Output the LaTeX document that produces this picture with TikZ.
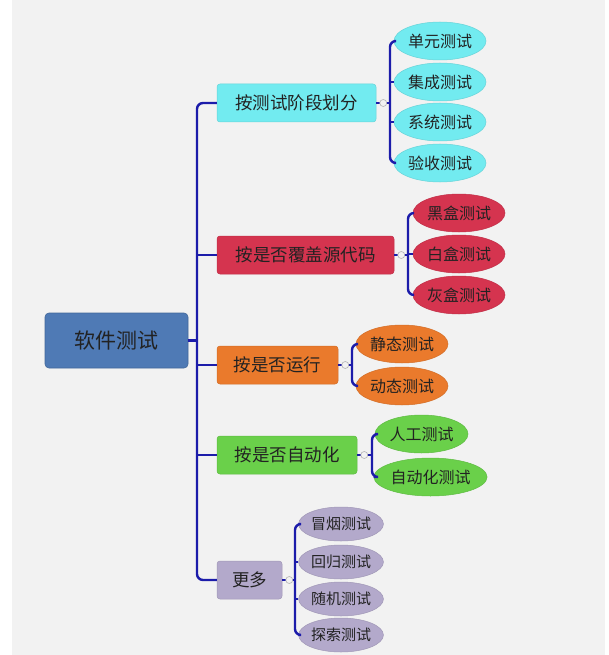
\documentclass[tikz,border=0pt]{standalone}
\usepackage{fontspec}
\setmainfont{Noto Sans CJK SC}
\usetikzlibrary{shapes.geometric}
\definecolor{bgc}{HTML}{F2F2F2}
\definecolor{linec}{HTML}{1C1CAA}
\definecolor{rootc}{HTML}{4F7AB5}
\definecolor{cyanc}{HTML}{72EBF0}
\definecolor{redc}{HTML}{D5344F}
\definecolor{orc}{HTML}{EA7A2C}
\definecolor{grc}{HTML}{6AD04A}
\definecolor{lavc}{HTML}{B3A9CB}
\definecolor{txtc}{HTML}{222222}
\tikzset{
  rootbox/.style={rectangle, rounded corners=4pt, fill=rootc, draw=rootc!85!black, line width=0.6pt, minimum width=143pt, minimum height=55pt, inner sep=0pt, text=txtc, font=\fontsize{21}{24}\selectfont},
  lvlbox/.style={rectangle, rounded corners=3pt, fill=#1, draw=#1!90!black, line width=0.5pt, minimum height=38pt, inner sep=0pt, text=txtc, font=\fontsize{17.5}{20}\selectfont},
  leaf/.style={ellipse, fill=#1, draw=#1!90!black, line width=0.5pt, minimum height=38pt, minimum width=92pt, inner sep=0pt, text=txtc, font=\fontsize{16}{18}\selectfont},
  conn/.style={draw=linec, line width=2.4pt, rounded corners=6pt},
  knob/.style={circle, draw=gray!60, fill=bgc, line width=0.6pt, minimum size=7pt, inner sep=0pt}
}
\begin{document}
\begin{tikzpicture}[x=1pt,y=-1pt]
\useasboundingbox (0,0) rectangle (609,655);
\fill[white] (0,0) rectangle (609,655);
\fill[bgc] (12,0) rectangle (605,655);

% root
\node[rootbox] (root) at (116.5,340.5) {软件测试};

% level 1
\node[lvlbox=cyanc, minimum width=159pt] (a) at (296.5,103) {按测试阶段划分};
\node[lvlbox=redc, minimum width=177pt] (b) at (305.5,255) {按是否覆盖源代码};
\node[lvlbox=orc, minimum width=121pt] (c) at (277.5,365) {按是否运行};
\node[lvlbox=grc, minimum width=140pt] (d) at (287,455) {按是否自动化};
\node[lvlbox=lavc, minimum width=65pt] (e) at (249.5,580) {更多};

% leaves group a
\node[leaf=cyanc] (a1) at (440,41) {单元测试};
\node[leaf=cyanc] (a2) at (440,82) {集成测试};
\node[leaf=cyanc] (a3) at (440,122) {系统测试};
\node[leaf=cyanc] (a4) at (440,163) {验收测试};
% group b
\node[leaf=redc] (b1) at (459,213) {黑盒测试};
\node[leaf=redc] (b2) at (459,254) {白盒测试};
\node[leaf=redc] (b3) at (459,295) {灰盒测试};
% group c
\node[leaf=orc] (c1) at (402,344) {静态测试};
\node[leaf=orc] (c2) at (402,386) {动态测试};
% group d
\node[leaf=grc, minimum width=93pt] (d1) at (421.5,434) {人工测试};
\node[leaf=grc, minimum width=111pt] (d2) at (430.5,477) {自动化测试};
% group e
\node[leaf=lavc, minimum width=84pt, minimum height=34pt, font=\fontsize{15}{17}\selectfont] (e1) at (341,524) {冒烟测试};
\node[leaf=lavc, minimum width=84pt, minimum height=34pt, font=\fontsize{15}{17}\selectfont] (e2) at (341,562) {回归测试};
\node[leaf=lavc, minimum width=84pt, minimum height=34pt, font=\fontsize{15}{17}\selectfont] (e3) at (341,599) {随机测试};
\node[leaf=lavc, minimum width=84pt, minimum height=34pt, font=\fontsize{15}{17}\selectfont] (e4) at (341,635) {探索测试};

% trunk
\coordinate (tr) at (197,0);
\begin{scope}[on background layer/.style={}]
\draw[conn] (root.east) -- (tr |- root.east);
\draw[conn] (a.west) -| (tr |- e.west) -- (e.west);
\draw[conn] (b.west) -- (tr |- b.west);
\draw[conn] (c.west) -- (tr |- c.west);
\draw[conn] (d.west) -- (tr |- d.west);
\end{scope}

% brackets
\coordinate (ba) at (390,0);
\draw[conn] (a1.west) -| (ba |- a4.west) -- (a4.west);
\draw[conn] (a2.west) -- (ba |- a2.west);
\draw[conn] (a3.west) -- (ba |- a3.west);
\draw[conn, line width=1.6pt] (a.east) -- (ba |- a.east);
\node[knob] (ka) at ([xshift=7pt]a.east) {};

\coordinate (bb) at (408,0);
\draw[conn] (b1.west) -| (bb |- b3.west) -- (b3.west);
\draw[conn] (b2.west) -- (bb |- b2.west);
\draw[conn, line width=1.6pt] (b.east) -- (bb |- b.east);
\node[knob] (kb) at ([xshift=7pt]b.east) {};

\coordinate (bc) at (352,0);
\draw[conn] (c1.west) -| (bc |- c2.west) -- (c2.west);
\draw[conn, line width=1.6pt] (c.east) -- (bc |- c.east);
\node[knob] (kc) at ([xshift=7pt]c.east) {};

\coordinate (bd) at (372,0);
\draw[conn] (d1.west) -| (bd |- d2.west) -- (d2.west);
\draw[conn, line width=1.6pt] (d.east) -- (bd |- d.east);
\node[knob] (kd) at ([xshift=7pt]d.east) {};

\coordinate (be) at (295,0);
\draw[conn] (e1.west) -| (be |- e4.west) -- (e4.west);
\draw[conn] (e2.west) -- (be |- e2.west);
\draw[conn] (e3.west) -- (be |- e3.west);
\draw[conn, line width=1.6pt] (e.east) -- (be |- e.east);
\node[knob] (ke) at ([xshift=7pt]e.east) {};
\end{tikzpicture}
\end{document}
